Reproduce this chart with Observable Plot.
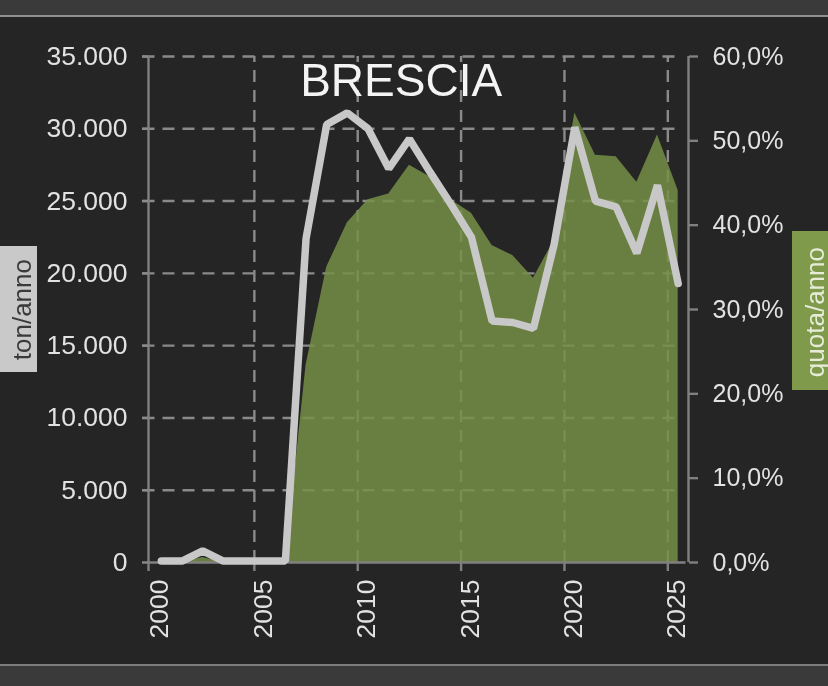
<!DOCTYPE html>
<html><head><meta charset="utf-8">
<script src="https://cdn.jsdelivr.net/npm/d3@7"></script>
<script src="https://cdn.jsdelivr.net/npm/@observablehq/plot@0.6"></script>
<style>
html,body{margin:0;padding:0;background:#252525;width:828px;height:686px;overflow:hidden;font-family:"Liberation Sans",Arial,sans-serif}
#chart{position:absolute;left:0;top:0;filter:blur(0.55px)}
#chart svg{background:transparent;display:block}
.band{position:absolute;left:0;width:828px;background:#3a3a3a}
.tag{position:absolute;display:flex;align-items:center;justify-content:center;overflow:hidden;filter:blur(0.45px)}
.tag span{writing-mode:vertical-rl;transform:rotate(180deg);font-size:26px;line-height:26px;white-space:nowrap;position:relative}
</style></head>
<body>
<div class="band" style="top:0;height:15px;border-bottom:2px solid #8f8f8f"></div>
<div class="band" style="top:664px;height:22px;border-top:2px solid #7d7d7d;box-sizing:border-box"></div>
<div id="chart"></div>
<div class="tag" style="left:0;top:246px;width:37px;height:126px;background:#c9c9c9;color:#3a3a3a"><span style="left:3px;top:1px">ton/anno</span></div>
<div class="tag" style="left:792px;top:231px;width:36px;height:159px;background:#7f9a4b;color:#e6ecd8"><span style="left:4.5px;top:2px">quota/anno</span></div>
<script>
const years = d3.range(2000, 2026);
const tons = [100,100,800,100,100,100,100,22400,30300,31100,30000,27250,29300,27000,24800,22500,16700,16600,16200,22000,30100,25000,24600,21400,26100,19300];
const shares = [0,0,0.6,0,0,0,0,23.4,35,40.3,43,43.7,47.1,45.7,43,41.4,37.6,36.4,33.7,38.2,53.3,48.3,48.1,45.1,50.7,44.1];
const tonTicks = [0,5000,10000,15000,20000,25000,30000,35000];
const shareTicks = [0,10,20,30,40,50,60];
const yearTicks = [2000,2005,2010,2015,2020,2025];
const gridYears = [2005,2010,2015,2020,2025];
const title = "BRESCIA";

const tonMax = 35000, shareMax = 60;
const toTon = s => s * tonMax / shareMax;
const it = d3.formatLocale({decimal:",",thousands:".",grouping:[3],currency:["","€"]});
const fmtTon = it.format(",d");
const fmtShare = it.format(".1f");
const rows = years.map((y,i)=>({x:y+0.5, ton:tons[i], share:toTon(shares[i])}));

const axisColor = "#808080", gridColor = "#8a8a8a", textColor = "#e2e2e2";
const dash = "12 8";

const plot = Plot.plot({
  width: 828, height: 686,
  marginLeft: 150.5, marginRight: 140, marginTop: 56, marginBottom: 124,
  style: {background:"transparent", fontFamily:'"Liberation Sans",Arial,sans-serif'},
  x: {domain:[2000,2026], label:null},
  y: {domain:[0,tonMax], label:null},
  marks: [
    Plot.ruleY(tonTicks.slice(1), {x1:2000, x2:2026.08, dx:-8, stroke:gridColor, strokeWidth:2.4, strokeDasharray:dash}),
    Plot.ruleX(gridYears, {y1:0, y2:tonMax, stroke:gridColor, strokeWidth:2.4, strokeDasharray:dash}),
    Plot.areaY(rows, {x:"x", y:"share", fill:"#768f46", fillOpacity:0.85}),
    Plot.ruleX([2000], {y1:-620, y2:tonMax, dx:-2.5, stroke:axisColor, strokeWidth:2.4}),
    Plot.ruleX([2026], {y1:0, y2:tonMax, stroke:axisColor, strokeWidth:2.4}),
    Plot.ruleY([0], {dx:-2.5, stroke:axisColor, strokeWidth:2.4}),
    Plot.axisY(tonTicks, {anchor:"left", tickSize:6, tickPadding:15, dx:-2.5, tickFormat:fmtTon, stroke:gridColor, strokeWidth:2.4, fill:textColor, fontSize:26.5, label:null}),
    Plot.axisY(shareTicks.map(toTon), {anchor:"right", tickSize:9, tickPadding:15, tickFormat:v=>fmtShare(v*shareMax/tonMax)+"%", stroke:axisColor, strokeWidth:2.4, fill:textColor, fontSize:25, label:null}),
    Plot.axisX(gridYears, {anchor:"bottom", tickSize:9, fill:"none", stroke:axisColor, strokeWidth:2.4, label:null}),
    Plot.axisX(yearTicks, {anchor:"bottom", tickSize:0, tickPadding:17, tickRotate:-90, dx:9, tickFormat:d=>String(d), fill:textColor, fontSize:26.5, label:null}),
    Plot.lineY(rows, {x:"x", y:"ton", stroke:"#c8c8c8", strokeWidth:7.5, strokeLinejoin:"miter"}),
    Plot.text([title], {x:2012.1, y:33300, text:d=>d, fill:"#f4f4f4", fontSize:46})
  ]
});
document.getElementById("chart").append(plot);
</script>
</body></html>
